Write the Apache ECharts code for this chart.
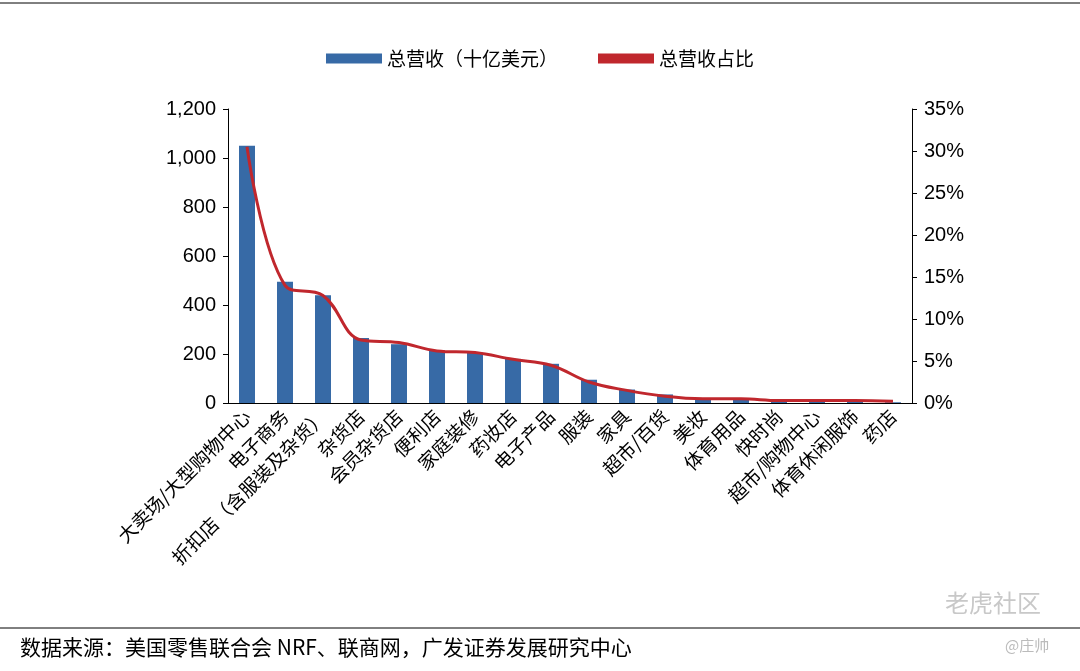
<!DOCTYPE html>
<html>
<head>
<meta charset="utf-8" />
<style>
  body { margin: 0; background: #fff; }
  #chart { width: 1080px; height: 671px; }
</style>
</head>
<body>
<div id="chart"></div>
<script src="https://cdn.jsdelivr.net/npm/echarts@6/dist/echarts.min.js"></script>
<script>
const categories = ['大卖场/大型购物中心', '电子商务', '折扣店（含服装及杂货）', '杂货店', '会员杂货店', '便利店', '家庭装修',
  '药妆店', '电子产品', '服装', '家具', '超市/百货', '美妆', '体育用品', '快时尚', '超市/购物中心', '体育休闲服饰', '药店'];
const revenue = [1050, 495, 440, 265, 240, 215, 205, 180, 160, 95, 55, 35, 20, 15, 8, 6, 5, 3];
const share = [30.5, 14.0, 12.8, 7.5, 7.2, 6.2, 6.0, 5.2, 4.5, 2.5, 1.5, 0.8, 0.5, 0.5, 0.3, 0.3, 0.3, 0.2];

const font = '"Noto Sans CJK SC", sans-serif';
const chart = echarts.init(document.getElementById('chart'));
chart.setOption({
  animation: false,
  textStyle: { fontFamily: font, color: '#000' },
  legend: {
    top: 44, left: 'center', itemGap: 40, itemWidth: 56, itemHeight: 10,
    textStyle: { fontSize: 19, color: '#000' },
    data: [
      { name: '总营收（十亿美元）', icon: 'rect' },
      { name: '总营收占比', icon: 'rect', itemStyle: { color: '#c0272d' } }
    ]
  },
  grid: { left: 228, right: 168, top: 109, bottom: 268 },
  xAxis: {
    type: 'category', data: categories,
    axisLine: { lineStyle: { color: '#000' } },
    axisTick: { lineStyle: { color: '#000' }, length: 6 },
    axisLabel: { rotate: 45, interval: 0, fontSize: 19, color: '#000', margin: 10 }
  },
  yAxis: [
    {
      type: 'value', min: 0, max: 1200, interval: 200,
      axisLine: { show: true, lineStyle: { color: '#000' } },
      axisTick: { show: true, lineStyle: { color: '#000' } },
      splitLine: { show: false },
      axisLabel: { fontSize: 20, color: '#000', fontFamily: 'Liberation Sans, Arial', margin: 12,
        formatter: v => v.toLocaleString('en-US') }
    },
    {
      type: 'value', min: 0, max: 35, interval: 5,
      axisLine: { show: true, lineStyle: { color: '#000' } },
      axisTick: { show: true, lineStyle: { color: '#000' } },
      splitLine: { show: false },
      axisLabel: { fontSize: 20, color: '#000', fontFamily: 'Liberation Sans, Arial', margin: 12, formatter: '{value}%' }
    }
  ],
  series: [
    {
      name: '总营收（十亿美元）', type: 'bar', data: revenue, barWidth: 16,
      itemStyle: { color: '#376aa6' }
    },
    {
      name: '总营收占比', type: 'line', yAxisIndex: 1, data: share, smooth: 0.4,
      symbol: 'none', lineStyle: { color: '#c0272d', width: 3 }, itemStyle: { color: '#c0272d' }
    }
  ],
  graphic: [
    { type: 'line', shape: { x1: 0, y1: 3, x2: 1080, y2: 3 }, style: { stroke: '#000', lineWidth: 1 } },
    { type: 'line', shape: { x1: 0, y1: 628, x2: 1080, y2: 628 }, style: { stroke: '#000', lineWidth: 1 } },
    { type: 'text', left: 20, top: 637, style: { text: '数据来源：美国零售联合会 NRF、联商网，广发证券发展研究中心', fontSize: 21, fill: '#000', fontFamily: font } },
    { type: 'text', left: 945, top: 591, style: { text: '老虎社区', fontSize: 24, fill: '#c8c8c8', fontFamily: font } },
    { type: 'text', left: 1005, top: 638, style: { text: '@庄帅', fontSize: 15, fill: '#bbb', fontFamily: font } }
  ]
});
</script>
</body>
</html>
